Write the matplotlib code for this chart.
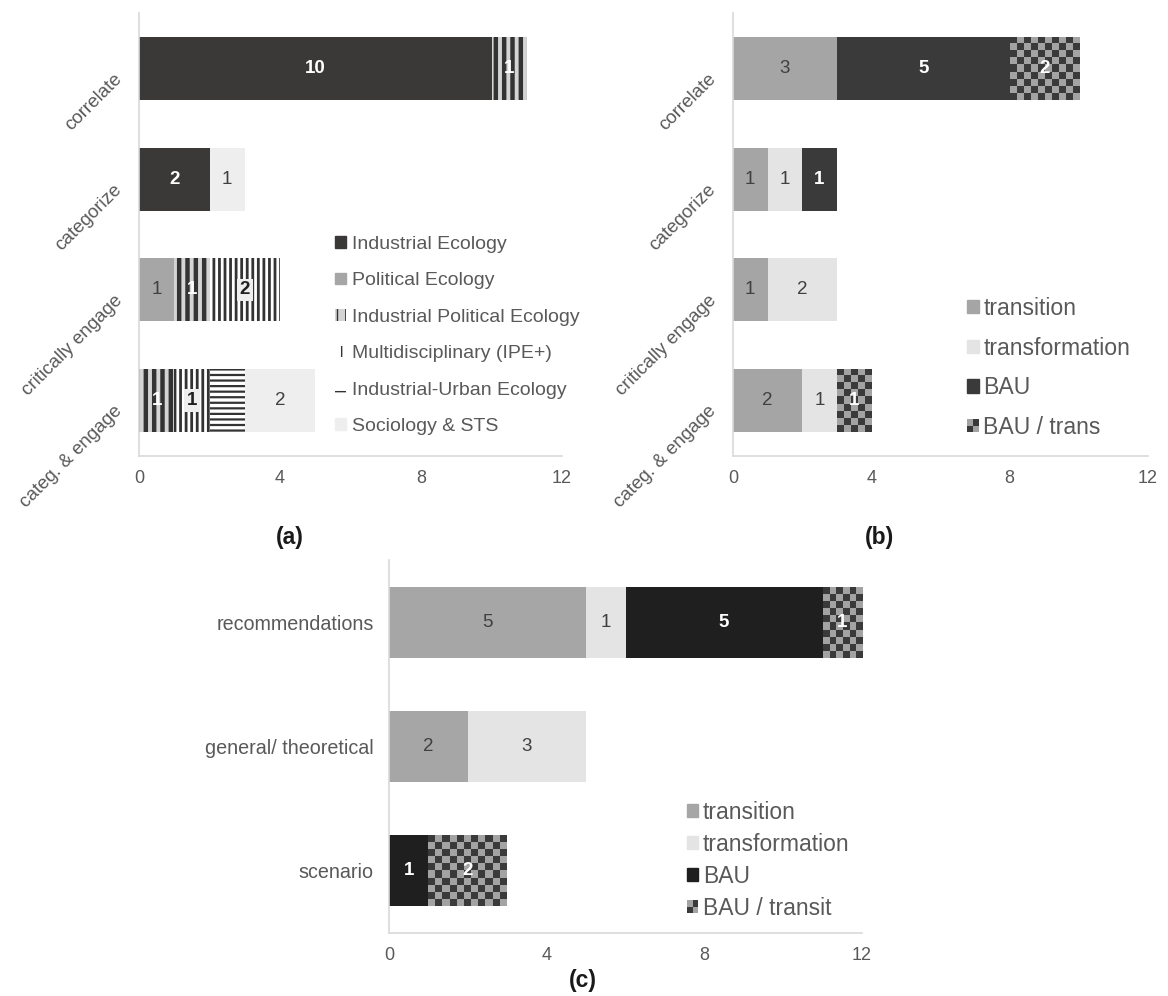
import numpy as np
import matplotlib
matplotlib.use("Agg")
import matplotlib.pyplot as plt
from matplotlib.colors import ListedColormap
from matplotlib.patches import Rectangle, Patch
from matplotlib.legend_handler import HandlerBase
from matplotlib.transforms import ScaledTranslation

plt.rcParams['font.family'] = ['Liberation Sans', 'DejaVu Sans']

# ---- data ----
a_cats = ['correlate', 'categorize', 'critically engage', 'categ. & engage']
a_ie = [10, 2, 0, 0]      # Industrial Ecology
a_pe = [0, 0, 1, 0]       # Political Ecology
a_ipe = [1, 0, 1, 1]      # Industrial Political Ecology
a_multi = [0, 0, 2, 1]    # Multidisciplinary (IPE+)
a_iue = [0, 0, 0, 1]      # Industrial-Urban Ecology
a_soc = [0, 1, 0, 2]      # Sociology & STS

b_cats = ['correlate', 'categorize', 'critically engage', 'categ. & engage']
b_transition = [3, 1, 1, 2]
b_transformation = [0, 1, 2, 1]
b_bau = [5, 1, 0, 0]
b_bau_trans = [2, 0, 0, 1]

c_cats = ['recommendations', 'general/ theoretical', 'scenario']
c_transition = [5, 2, 0]
c_transformation = [1, 3, 0]
c_bau = [5, 0, 1]
c_bau_transit = [1, 0, 2]

TXT = '#595959'
GRID = '#d9d9d9'
DARK = '#3b3838'
CHK_DARK = '#3a3a3a'
CHK_GRAY = '#a3a3a3'


class CheckerHandler(HandlerBase):
    def create_artists(self, legend, orig_handle, xdescent, ydescent,
                       width, height, fontsize, trans):
        arts = []
        n = 2
        for i in range(n):
            for j in range(n):
                c = CHK_DARK if (i + j) % 2 == 0 else CHK_GRAY
                arts.append(Rectangle((-xdescent + i * width / n, -ydescent + j * height / n),
                                      width / n, height / n, facecolor=c, lw=0, transform=trans))
        return arts


def style_axis(ax, cats, rotate):
    n = len(cats)
    ax.set_xlim(0, 12)
    ax.set_ylim(n - 0.5, -0.5)
    ax.set_xticks([0, 4, 8, 12])
    ax.set_yticks(range(n))
    ax.tick_params(length=0, colors=TXT, labelsize=13)
    ax.tick_params(axis='x', pad=10)
    if rotate:
        ax.set_yticklabels(cats, rotation=45, ha='right', va='center', rotation_mode='anchor')
        ax.tick_params(axis='y', labelsize=13.5, pad=14)
        off = ScaledTranslation(0, -6 / 72, ax.figure.dpi_scale_trans)
        for t in ax.get_yticklabels():
            t.set_transform(t.get_transform() + off)
    else:
        ax.set_yticklabels(cats)
        ax.tick_params(axis='y', labelsize=14.2, pad=11)
    for s in ['top', 'right']:
        ax.spines[s].set_visible(False)
    for s in ['left', 'bottom']:
        ax.spines[s].set_color(GRID)
        ax.spines[s].set_linewidth(1.2)


def stack(ax, cats, series, height=0.57):
    left = np.zeros(len(cats))
    out = []
    for vals, kw in series:
        bars = ax.barh(range(len(cats)), vals, left=left, height=height, lw=0, **kw)
        left = left + np.array(vals)
        out.append(bars)
    return out


def set_hatch_lw(bars, lw):
    for b in bars:
        if hasattr(b, 'set_hatch_linewidth'):
            b.set_hatch_linewidth(lw)


def label(ax, bars, vals, color, bold=False, box=None, size=13.5):
    for b, v in zip(bars, vals):
        if v == 0:
            continue
        cx = b.get_x() + b.get_width() / 2
        cy = b.get_y() + b.get_height() / 2
        kw = {}
        if box:
            kw['bbox'] = dict(boxstyle='square,pad=0.15', fc=box, ec='none')
        ax.text(cx, cy, str(v), ha='center', va='center', color=color, fontsize=size,
                fontweight='bold' if bold else 'normal', zorder=5, **kw)


def checker(ax, bars, sq=7.0):
    for b in bars:
        w, h = b.get_width(), b.get_height()
        if w == 0:
            continue
        x0, y0 = b.get_x(), b.get_y()
        p0 = ax.transData.transform((x0, y0))
        p1 = ax.transData.transform((x0 + w, y0 + h))
        nx = max(1, int(round(abs(p1[0] - p0[0]) / sq)))
        ny = max(1, int(round(abs(p1[1] - p0[1]) / sq)))
        grid = np.add.outer(np.arange(ny), np.arange(nx)) % 2
        im = ax.imshow(grid, extent=(x0, x0 + w, y0 + h, y0), cmap=ListedColormap([CHK_DARK, CHK_GRAY]),
                       interpolation='nearest', aspect='auto', zorder=3)
        im.set_clip_path(b)


fig = plt.figure(figsize=(11.68, 9.96), dpi=100)
ax_a = fig.add_axes([139 / 1168, 1 - 456 / 996, 423 / 1168, 443 / 996])
ax_b = fig.add_axes([733 / 1168, 1 - 456 / 996, 415 / 1168, 443 / 996])
ax_c = fig.add_axes([389 / 1168, 1 - 933 / 996, 473 / 1168, 373 / 996])

# ---- panel (a) ----
style_axis(ax_a, a_cats, True)
with plt.rc_context({'hatch.linewidth': 3.2}):
    ba = stack(ax_a, a_cats, [
        (a_ie, dict(color=DARK)),
        (a_pe, dict(color='#a6a6a6')),
        (a_ipe, dict(facecolor='#d4d4d4', edgecolor='#333333', hatch='||')),
        (a_multi, dict(facecolor='white', edgecolor='#333333', hatch='|||')),
        (a_iue, dict(facecolor='white', edgecolor='#333333', hatch='---')),
        (a_soc, dict(color='#eeeeee')),
    ])
set_hatch_lw(ba[2], 3.2)
set_hatch_lw(ba[3], 2.0)
set_hatch_lw(ba[4], 1.6)
label(ax_a, ba[0], a_ie, 'white', bold=True)
label(ax_a, ba[1], a_pe, '#404040')
label(ax_a, ba[2], a_ipe, 'white', bold=True)
label(ax_a, ba[3], a_multi, '#202020', bold=True, box='#eeeeee')
label(ax_a, ba[5], a_soc, '#404040')

ha = [Patch(color=DARK), Patch(color='#a6a6a6'),
      Patch(facecolor='#d4d4d4', edgecolor='#333333', hatch='||', lw=0),
      Patch(facecolor='white', edgecolor='#333333', hatch='|', lw=0),
      Patch(facecolor='white', edgecolor='#333333', hatch='-', lw=0),
      Patch(color='#eeeeee')]
la = ['Industrial Ecology', 'Political Ecology', 'Industrial Political Ecology',
      'Multidisciplinary (IPE+)', 'Industrial-Urban Ecology', 'Sociology & STS']
fig.legend(ha, la, loc='upper left', bbox_to_anchor=(335 / 1168, 1 - 236 / 996), frameon=False,
           fontsize=14, labelcolor=TXT, handlelength=0.55, handleheight=0.55, handletextpad=0.3,
           labelspacing=1.0, borderpad=0, borderaxespad=0)

# ---- panel (b) ----
style_axis(ax_b, b_cats, True)
bb = stack(ax_b, b_cats, [
    (b_transition, dict(color='#a5a5a5')),
    (b_transformation, dict(color='#e4e4e4')),
    (b_bau, dict(color='#3a3a3a')),
    (b_bau_trans, dict(color=CHK_GRAY)),
])
checker(ax_b, bb[3])
ax_b.set_xlim(0, 12)
ax_b.set_ylim(len(b_cats) - 0.5, -0.5)
label(ax_b, bb[0], b_transition, '#404040')
label(ax_b, bb[1], b_transformation, '#404040')
label(ax_b, bb[2], b_bau, 'white', bold=True)
label(ax_b, bb[3], b_bau_trans, 'white', bold=True)

hb = [Patch(color='#a5a5a5'), Patch(color='#e4e4e4'), Patch(color='#3a3a3a'), Patch(color=CHK_GRAY)]
lb = ['transition', 'transformation', 'BAU', 'BAU / trans']
fig.legend(hb, lb, loc='upper left', bbox_to_anchor=(967 / 1168, 1 - 297 / 996), frameon=False,
           fontsize=16.6, labelcolor=TXT, handlelength=0.5, handleheight=0.5, handletextpad=0.2,
           labelspacing=0.72, borderpad=0, borderaxespad=0,
           handler_map={hb[3]: CheckerHandler()})

# ---- panel (c) ----
style_axis(ax_c, c_cats, False)
bc = stack(ax_c, c_cats, [
    (c_transition, dict(color='#a6a6a6')),
    (c_transformation, dict(color='#e4e4e4')),
    (c_bau, dict(color='#1f1f1f')),
    (c_bau_transit, dict(color=CHK_GRAY)),
])
checker(ax_c, bc[3])
ax_c.set_xlim(0, 12)
ax_c.set_ylim(len(c_cats) - 0.5, -0.5)
label(ax_c, bc[0], c_transition, '#404040')
label(ax_c, bc[1], c_transformation, '#404040')
label(ax_c, bc[2], c_bau, 'white', bold=True)
label(ax_c, bc[3], c_bau_transit, 'white', bold=True)

hc = [Patch(color='#a6a6a6'), Patch(color='#e4e4e4'), Patch(color='#1f1f1f'), Patch(color=CHK_GRAY)]
lc = ['transition', 'transformation', 'BAU', 'BAU / transit']
fig.legend(hc, lc, loc='upper left', bbox_to_anchor=(687 / 1168, 1 - 801 / 996), frameon=False,
           fontsize=16.5, labelcolor=TXT, handlelength=0.5, handleheight=0.5, handletextpad=0.2,
           labelspacing=0.39, borderpad=0, borderaxespad=0,
           handler_map={hc[3]: CheckerHandler()})

# panel letters
for x, y, s in [(290, 537, '(a)'), (879, 537, '(b)'), (583, 980, '(c)')]:
    fig.text(x / 1168, 1 - y / 996, s, ha='center', va='center', fontsize=16.5,
             fontweight='bold', color='#1a1a1a')

fig.savefig('out.png', dpi=100)
